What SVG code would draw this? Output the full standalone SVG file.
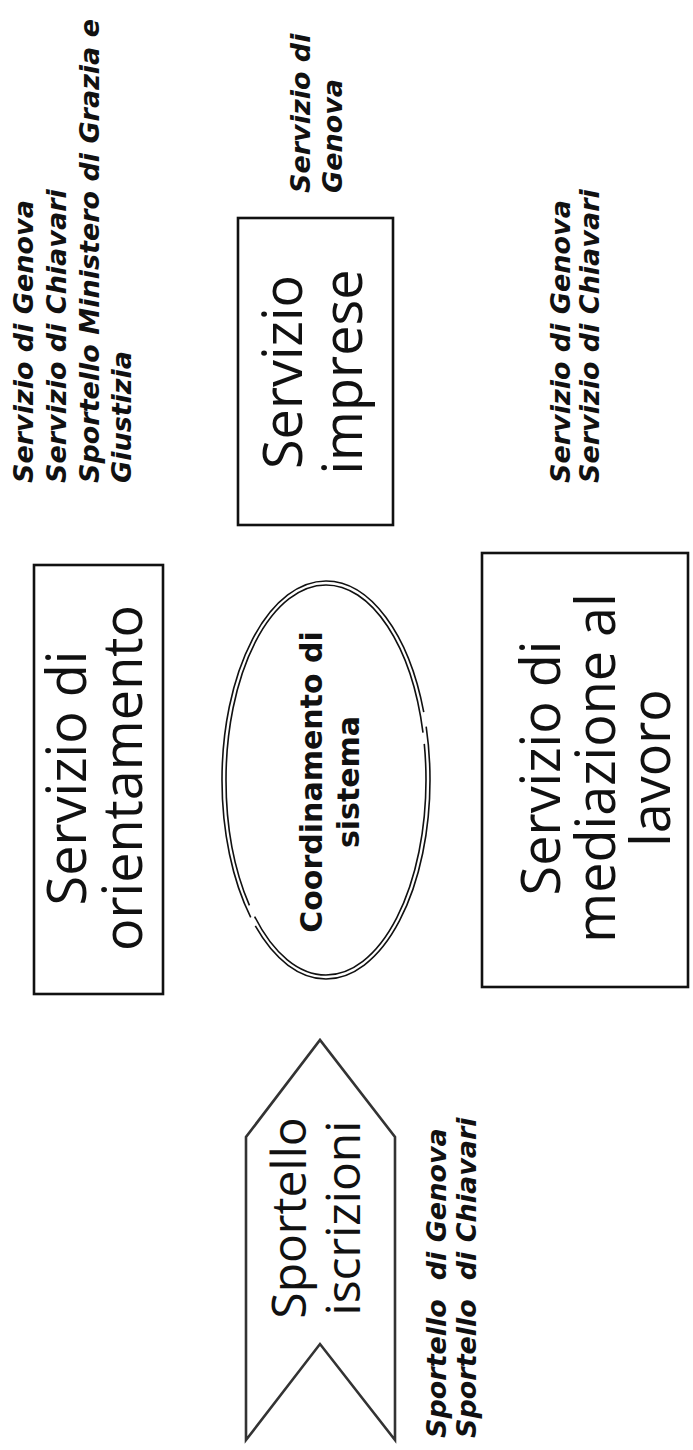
<svg xmlns="http://www.w3.org/2000/svg" width="693" height="1450" viewBox="0 0 693 1450">
  <style>
    .box { fill: none; stroke: #111; stroke-width: 2.6; }
    .chev { fill: none; stroke: #333; stroke-width: 2.6; stroke-linejoin: miter; }
    .ell { fill: none; stroke: #111; stroke-width: 1.6; }
    .big { font-family: "Open Sans", "Noto Sans", sans-serif; font-size: 54px; fill: #111; text-anchor: middle; }
    .mid { font-family: "Open Sans", "Noto Sans", sans-serif; font-size: 48px; fill: #111; text-anchor: middle; }
    .core { font-family: "DejaVu Sans", sans-serif; font-weight: bold; font-size: 30px; fill: #111; text-anchor: middle; }
    .note { font-family: "DejaVu Sans", sans-serif; font-weight: bold; font-style: italic; font-size: 27px; fill: #111; }
  </style>
  <rect width="693" height="1450" fill="#fff"/>
  <!-- the whole chart is laid out landscape and turned a quarter turn anticlockwise -->
  <g transform="translate(0,1450) rotate(-90)">
    <g id="connectors"></g>

    <g id="orientamento">
      <rect class="box" x="456" y="34" width="429" height="129"/>
      <text class="big" x="672" y="86">Servizio di</text>
      <text class="big" x="672" y="142">orientamento</text>
    </g>

    <g id="coordinamento">
      <ellipse class="ell" cx="670" cy="326" rx="199" ry="104" pathLength="100" stroke-dasharray="18 1.5 40 1 41.5"/>
      <ellipse class="ell" cx="670" cy="326" rx="195" ry="100" pathLength="100" stroke-dasharray="20 1.2 39 1.3 40.5"/>
      <text class="core" x="668" y="322">Coordinamento di</text>
      <text class="core" x="668" y="359">sistema</text>
    </g>

    <g id="iscrizioni">
      <path class="chev" d="M10,246 L313,246 L410,320 L313,395 L10,395 L106,320 Z"/>
      <text class="mid" x="232" y="306">Sportello</text>
      <text class="mid" x="232" y="360">iscrizioni</text>
    </g>

    <g id="imprese">
      <rect class="box" x="925" y="238" width="307" height="155"/>
      <text class="big" x="1078" y="302">Servizio</text>
      <text class="big" x="1078" y="362">imprese</text>
    </g>

    <g id="mediazione">
      <rect class="box" x="463" y="482" width="434" height="206"/>
      <text class="big" x="682" y="560">Servizio di</text>
      <text class="big" x="682" y="615">mediazione al</text>
      <text class="big" x="682" y="670">lavoro</text>
    </g>

    <g id="sedi-orientamento">
      <text class="note" x="967" y="33">Servizio di Genova</text>
      <text class="note" x="967" y="66">Servizio di Chiavari</text>
      <text class="note" x="967" y="99">Sportello Ministero di Grazia e</text>
      <text class="note" x="967" y="131">Giustizia</text>
    </g>

    <g id="sedi-imprese">
      <text class="note" x="1257" y="310">Servizio di</text>
      <text class="note" x="1257" y="342">Genova</text>
    </g>

    <g id="sedi-mediazione">
      <text class="note" x="967" y="570">Servizio di Genova</text>
      <text class="note" x="967" y="599">Servizio di Chiavari</text>
    </g>

    <g id="sedi-iscrizioni">
      <text class="note" x="12" y="446" xml:space="preserve">Sportello  di Genova</text>
      <text class="note" x="12" y="476" xml:space="preserve">Sportello  di Chiavari</text>
    </g>
  </g>
</svg>
